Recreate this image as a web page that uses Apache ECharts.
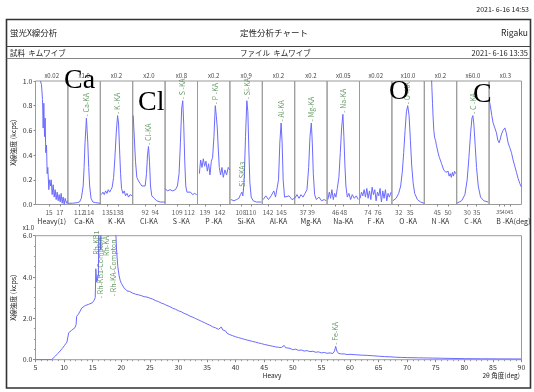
<!DOCTYPE html>
<html>
<head>
<meta charset="utf-8">
<script src="https://cdn.jsdelivr.net/npm/echarts@6/dist/echarts.min.js"></script>
<style>
html,body{margin:0;padding:0;background:#fff;}
#c{width:534px;height:392px;}
</style>
</head>
<body>
<div id="c"></div>
<script>
// ---- qualitative scan: narrow windows around each analysis line ----
const panelNames = ['Heavy(1)','Ca-KA','K -KA','Cl-KA','S -KA','P -KA','Si-KA','Al-KA','Mg-KA','Na-KA','F -KA','O -KA','N -KA','C -KA','B -KA'];
const panelScales = ['x0.02','x1.0','x0.2','x2.0','x0.8','x0.2','x0.9','x0.2','x0.2','x0.05','x0.02','x10.0','x0.2','x60.0','x0.3'];
const panelRanges = [[12.5,18.5],[109.5,116.5],[133,142],[89.5,96],[106,114],[137.5,144],[105.8,112.3],[140.7,148],[35,42.8],[43.9,52],[72.3,78.8],[30.2,38.8],[39,54],[24.5,41.5],[26,55]];
const panelTicks = [[15,17],[112,114],[135,138],[92,94],[109,112],[139,142],[108,110],[142,145],[37,39],[46,48],[74,76],[32,35],[45,50],[30,35],[35,40,45]];

const heavyScan = [[13.42,1.0],[13.61,0.97],[13.8,0.85],[13.92,0.62],[14.04,0.82],[14.17,0.55],[14.29,0.7],[14.4,0.42],[14.54,0.48],[14.66,0.25],[14.78,0.3],[14.97,0.12],[15.09,0.2],[15.28,0.15],[15.4,0.2],[15.59,0.08],[15.77,0.16],[15.96,0.06],[16.14,0.12],[16.33,0.04],[16.51,0.1],[16.7,0.03],[16.88,0.08],[17.07,0.02],[17.25,0.09],[17.44,0.01],[17.62,0.06],[17.81,0.0],[17.99,0.05],[18.24,0.01],[18.42,0.03]];
const caScan = [[109.5,0.01],[110.5,0.01],[111.5,0.015],[112.0,0.02],[112.4,0.05],[112.8,0.15],[113.0,0.3],[113.2,0.5],[113.5,0.70],[113.8,0.5],[114.0,0.3],[114.2,0.15],[114.5,0.05],[114.9,0.02],[115.5,0.015],[116.5,0.01]];
const kScan = [[133.28,0.08],[133.74,0.10],[134.1,0.08],[134.47,0.11],[134.85,0.09],[135.2,0.12],[135.6,0.10],[135.96,0.12],[136.3,0.14],[136.7,0.22],[137.06,0.38],[137.43,0.58],[137.8,0.72],[138.07,0.66],[138.35,0.45],[138.63,0.25],[138.9,0.13],[139.28,0.09],[139.65,0.11],[140.0,0.07],[140.4,0.09],[140.85,0.06],[141.3,0.08],[141.86,0.07]];
const clScan = [[89.6,0.72],[90.06,0.35],[90.33,0.22],[90.67,0.19],[91.0,0.17],[91.33,0.15],[91.67,0.14],[92.0,0.15],[92.27,0.25],[92.47,0.40],[92.67,0.47],[92.87,0.35],[93.07,0.15],[93.33,0.07],[93.8,0.05],[94.33,0.03],[95.0,0.02],[96.0,0.02]];
const sScan = [[106.0,0.13],[106.57,0.11],[107.23,0.12],[107.9,0.11],[108.55,0.12],[109.04,0.15],[109.45,0.25],[109.78,0.5],[110.1,0.78],[110.36,0.84],[110.6,0.65],[110.85,0.35],[111.1,0.15],[111.4,0.1],[111.8,0.09],[112.3,0.1],[112.8,0.08],[113.3,0.09],[113.8,0.08]];
const pScan = [[137.87,0.25],[138.13,0.36],[138.4,0.30],[138.67,0.37],[138.93,0.31],[139.2,0.35],[139.47,0.27],[139.73,0.33],[140.0,0.24],[140.27,0.35],[140.53,0.38],[140.8,0.55],[141.07,0.80],[141.27,0.72],[141.47,0.62],[141.67,0.45],[141.87,0.30],[142.13,0.24],[142.4,0.30],[142.67,0.22],[143.0,0.28],[143.33,0.24],[143.67,0.30],[144.0,0.28]];
const siScan = [[106.0,0.04],[106.6,0.03],[107.13,0.04],[107.6,0.05],[107.93,0.08],[108.2,0.10],[108.4,0.07],[108.67,0.2],[108.93,0.55],[109.2,0.84],[109.4,0.75],[109.6,0.45],[109.8,0.18],[110.07,0.06],[110.47,0.03],[111.13,0.02],[112.13,0.02]];
const alScan = [[140.89,0.04],[141.49,0.07],[142.1,0.04],[142.69,0.07],[143.3,0.11],[143.68,0.06],[144.04,0.05],[144.36,0.2],[144.65,0.5],[144.94,0.66],[145.17,0.5],[145.4,0.2],[145.71,0.06],[146.16,0.05],[146.75,0.07],[147.36,0.04],[147.97,0.05]];
const mgScan = [[35.0,0.05],[35.56,0.08],[36.04,0.05],[36.52,0.08],[37.0,0.06],[37.48,0.09],[37.96,0.12],[38.36,0.3],[38.68,0.55],[39.0,0.66],[39.24,0.5],[39.48,0.25],[39.8,0.08],[40.2,0.04],[40.82,0.06],[41.46,0.03],[42.1,0.04],[42.6,0.03]];
const naScan = [[44.1,0.04],[44.45,0.10],[44.78,0.05],[45.1,0.12],[45.45,0.04],[45.78,0.09],[46.1,0.06],[46.45,0.13],[46.85,0.22],[47.2,0.42],[47.53,0.62],[47.85,0.73],[48.1,0.55],[48.35,0.32],[48.6,0.15],[48.95,0.06],[49.35,0.09],[49.78,0.04],[50.2,0.08],[50.7,0.05],[51.2,0.07],[51.7,0.04]];
const fScan = [[72.43,0.05],[72.7,0.10],[72.97,0.07],[73.23,0.12],[73.5,0.06],[73.77,0.13],[74.03,0.05],[74.3,0.11],[74.57,0.04],[74.83,0.14],[75.1,0.08],[75.37,0.12],[75.63,0.03],[75.9,0.10],[76.17,0.07],[76.43,0.13],[76.7,0.02],[76.97,0.11],[77.23,0.05],[77.5,0.12],[77.77,0.03],[78.03,0.09],[78.3,0.06],[78.63,0.10]];
const oScan = [[30.42,0.03],[31.31,0.05],[32.0,0.09],[32.53,0.15],[32.98,0.27],[33.33,0.42],[33.7,0.60],[34.05,0.75],[34.4,0.80],[34.76,0.72],[35.11,0.52],[35.45,0.32],[35.82,0.18],[36.25,0.09],[36.96,0.04],[37.84,0.02],[38.74,0.01]];
const nScan = [[42.2,1.1],[42.5,0.95],[42.8,0.82],[43.1,0.70],[43.4,0.60],[43.8,0.54],[44.2,0.52],[44.6,0.48],[45.0,0.45],[45.5,0.41],[46.0,0.38],[46.5,0.37],[47.0,0.33],[47.5,0.32],[48.0,0.28],[48.5,0.29],[49.0,0.26],[49.5,0.25],[50.0,0.27],[50.5,0.23],[51.0,0.25],[51.5,0.22],[52.0,0.26],[52.5,0.23],[53.0,0.27],[53.5,0.25]];
const cScan = [[24.5,0.01],[27.1,0.03],[28.8,0.08],[30.0,0.2],[30.9,0.38],[31.8,0.58],[32.5,0.70],[33.0,0.72],[33.5,0.65],[34.2,0.48],[34.9,0.3],[35.8,0.15],[37.0,0.06],[38.7,0.03],[41.0,0.02]];
const bScan = [[26.0,0.85],[27.1,0.80],[28.4,0.72],[29.6,0.66],[31.1,0.62],[32.6,0.58],[33.8,0.52],[35.0,0.50],[36.0,0.53],[37.1,0.57],[38.5,0.60],[40.1,0.62],[41.4,0.58],[43.0,0.50],[44.5,0.46],[46.0,0.42],[47.5,0.36],[49.0,0.31],[50.5,0.26],[52.0,0.21],[53.5,0.17],[55.0,0.14]];
const panelScans = [heavyScan,caScan,kScan,clScan,sScan,pScan,siScan,alScan,mgScan,naScan,fScan,oScan,nScan,cScan,bScan];

// identified lines: [panel, label, 2θ, intensity]
const peakLabels = [
  [1,'- Ca-KA',113.5,0.70],[2,'- K -KA',137.8,0.72],[3,'- Cl-KA',92.67,0.47],
  [4,'- S -KA',110.36,0.84],[5,'- P -KA',141.07,0.80],[6,'- Si-KA',109.2,0.84],
  [6,'- Si-SKA3',108.2,0.10],[7,'- Al-KA',144.94,0.66],[8,'- Mg-KA',39.0,0.66],
  [9,'- Na-KA',47.85,0.73],[11,'- O -KA',34.4,0.80],[13,'- C -KA',33.0,0.72]
];

// ---- heavy-element wide scan (2θ 5–90 deg) ----
const heavyWideScan = [[5,0],[6,0],[7,0],[7.8,0],[8.1,0.06],[8.5,0.18],[8.9,0.3],[9.3,0.42],[9.7,0.55],[10.1,0.7],[10.5,0.85],[10.7,0.9],[10.8,1.3],[11.0,1.38],[11.3,1.42],[11.6,1.4],[11.9,1.55],[12.1,1.7],[12.2,2.1],[12.5,2.2],[12.8,2.35],[13.1,2.5],[13.4,2.55],[13.7,2.62],[14.0,2.58],[14.3,2.68],[14.6,2.64],[14.9,2.75],[15.2,2.85],[15.45,3.0],[15.55,4.4],[15.7,3.75],[15.85,3.9],[16.0,4.1],[16.1,7.5],[16.3,7.5],[16.42,5.3],[16.55,7.5],[18.7,7.5],[19.0,6.4],[19.2,5.2],[19.4,4.5],[19.6,4.1],[19.8,3.85],
  [20.0,3.70],[20.25,3.64],[20.5,3.47],[20.75,3.46],[21.0,3.33],[21.25,3.38],[21.5,3.30],[21.75,3.34],[22.0,3.22],[22.25,3.26],[22.5,3.17],[22.75,3.23],[23.0,3.14],[23.25,3.19],[23.5,3.10],[23.75,3.16],[24.0,3.05],[24.25,3.12],[24.5,3.03],[24.75,3.08],[25.0,2.98],[25.25,3.04],[25.5,2.93],[25.75,2.98],[26.0,2.86],[26.25,2.92],[26.5,2.81],[26.75,2.86],[27.0,2.74],[27.25,2.80],[27.5,2.69],[27.75,2.74],[28.0,2.62],[28.25,2.68],[28.5,2.57],[28.75,2.62],[29.0,2.49],[29.25,2.55],[29.5,2.44],[29.75,2.49],[30.0,2.37],[30.25,2.43],[30.5,2.32],[30.75,2.37],[31.0,2.24],[31.25,2.30],[31.5,2.19],[31.75,2.24],[32.0,2.11],[32.25,2.17],[32.5,2.06],[32.75,2.11],[33.0,1.99],[33.25,2.05],[33.5,1.93],[33.75,1.98],[34.0,1.86],[34.25,1.92],[34.5,1.80],[34.75,1.85],[35.0,1.73],[35.25,1.79],[35.5,1.67],[35.75,1.72],[36.0,1.59],[36.25,1.65],[36.5,1.54],[36.75,1.59],[37.0,1.47],[37.25,1.54],[37.5,1.58],[37.75,1.44],[38.0,1.35],[38.25,1.39],[38.5,1.28],[38.75,1.32],[39.0,1.21],[39.25,1.25],[39.5,1.16],[39.75,1.19],[40.0,1.11],[40.25,1.15],[40.5,1.07],[40.75,1.11],[41.0,1.03],[41.25,1.07],[41.5,0.99],[41.75,1.03],[42.0,0.95],[42.25,0.99],[42.5,0.92],[42.75,0.96],[43.0,0.88],[43.25,0.92],[43.5,0.85],[43.75,0.89],[44.0,0.81],[44.25,0.85],[44.5,0.78],[44.75,0.82],[45.0,0.74],[45.25,0.78],[45.5,0.71],[45.75,0.75],[46.0,0.68],[46.25,0.72],[46.5,0.65],[46.75,0.69],[47.0,0.62],[47.25,0.66],[47.5,0.60],[47.75,0.64],[48.0,0.59],[48.25,0.64],[48.5,0.69],[48.75,0.58],[49.0,0.54],[49.5,0.55],[50.0,0.48],[50.5,0.51],[51.0,0.45],[51.5,0.47],[52.0,0.42],[52.5,0.44],[53.0,0.39],[53.5,0.41],[54.0,0.36],[54.5,0.38],[55.0,0.33],[55.5,0.35],[56.0,0.31],[56.5,0.33],[57.0,0.30],[57.3,0.42],[57.5,0.65],[57.7,0.42],[58.0,0.30],[58.5,0.28],[59.0,0.28],[59.5,0.25],[60,0.26],[61,0.24],[62,0.22],[63,0.21],[64,0.19],[65,0.17],[66,0.15],[67,0.14],[68,0.12],[69,0.11],[70,0.10],[72,0.09],[74,0.08],[76,0.07],[78,0.06],[80,0.05],[83,0.045],[86,0.04],[90,0.035]];
const wideLabels = [['Rh-KB1',15.6,5.0],['- Rh-KB1-Compton',16.4,2.9],['Rh-KA',17.4,4.95],['- Rh-KA-Compton',18.7,3.0],['- Fe-KA',57.5,0.65]];

// ---- page layout ----
const FONT = '"Noto Sans CJK JP","Noto Sans",sans-serif';
const TRACE = '#6b6bff';
const LABEL_GREEN = '#3d7f3d';
const PLOT_L = 35.5, PLOT_R = 521.5;
const TOP_T = 81, TOP_H = 123.5;
const BOT_T = 235.7, BOT_H = 124;
const PW = (PLOT_R - PLOT_L) / panelNames.length;

const grids = [], xAxes = [], yAxes = [], series = [], graphics = [];

panelNames.forEach((nm, i) => {
  grids.push({left: PLOT_L + i * PW, top: TOP_T, width: PW, height: TOP_H, show: true,
    borderColor: '#9a9a9a', borderWidth: 1, outerBoundsMode: 'none', containLabel: false});
  xAxes.push({gridIndex: i, type: 'value', min: panelRanges[i][0], max: panelRanges[i][1],
    axisLine: {show: false}, splitLine: {show: false},
    axisTick: {show: true, customValues: panelTicks[i], length: 2, lineStyle: {color: '#888'}},
    axisLabel: {show: false}});
  yAxes.push({gridIndex: i, type: 'value', min: 0, max: 1, interval: 0.2,
    axisLine: {show: false}, splitLine: {show: false},
    axisTick: {show: i === 0, length: 2, lineStyle: {color: '#888'}},
    axisLabel: {show: i === 0, fontSize: 7, margin: 3, color: '#333', fontFamily: FONT,
      formatter: v => v.toFixed(1)}});
  series.push({type: 'line', xAxisIndex: i, yAxisIndex: i, data: panelScans[i], showSymbol: false,
    clip: true, animation: false, lineStyle: {color: TRACE, width: 1}});
  // 2θ tick values printed under each window (kept even when they touch)
  const dense = panelTicks[i].length > 2;
  series.push({type: 'scatter', xAxisIndex: i, yAxisIndex: i, symbolSize: 1, silent: true,
    itemStyle: {color: 'rgba(0,0,0,0)'}, animation: false,
    data: panelTicks[i].map(t => [t, 0]),
    label: {show: true, position: 'bottom', distance: 4, formatter: p => String(p.value[0]),
      fontSize: dense ? 5.4 : 6.5, color: '#333', fontFamily: FONT}});
  const cx = PLOT_L + (i + 0.5) * PW;
  graphics.push({type: 'text', x: cx, y: 76, silent: true,
    style: {text: panelScales[i], fill: '#444', font: '6px ' + FONT, align: 'center', verticalAlign: 'middle'}});
  if (i < panelNames.length - 1) {
    graphics.push({type: 'text', x: cx, y: 221, silent: true,
      style: {text: nm, fill: '#333', font: '7px ' + FONT, align: 'center', verticalAlign: 'middle'}});
  } else {
    graphics.push({type: 'text', x: cx - 9, y: 221, silent: true,
      style: {text: nm + '(deg)', fill: '#333', font: '7px ' + FONT, align: 'left', verticalAlign: 'middle'}});
  }
});

// peak identification labels per panel
const labelStyle = {show: true, formatter: p => p.name, position: 'top', distance: 1, rotate: 90,
  align: 'left', verticalAlign: 'middle', fontSize: 7, color: LABEL_GREEN, fontFamily: FONT};
panelNames.forEach((nm, i) => {
  const pts = peakLabels.filter(d => d[0] === i).map(d => ({name: d[1], value: [d[2], d[3]]}));
  if (pts.length) {
    series.push({type: 'scatter', xAxisIndex: i, yAxisIndex: i, data: pts, symbolSize: 1,
      itemStyle: {color: 'rgba(0,0,0,0)'}, label: labelStyle, animation: false, z: 5});
  }
});

// wide scan panel
const B = panelNames.length;
grids.push({left: PLOT_L, top: BOT_T, width: PLOT_R - PLOT_L, height: BOT_H, show: true,
  borderColor: '#9a9a9a', borderWidth: 1, outerBoundsMode: 'none', containLabel: false});
xAxes.push({gridIndex: B, type: 'value', min: 5, max: 90, interval: 5,
  axisLine: {show: false}, splitLine: {show: false},
  axisTick: {length: 2.5, lineStyle: {color: '#888'}},
  minorTick: {show: true, splitNumber: 5, length: 1.5, lineStyle: {color: '#999'}},
  axisLabel: {fontSize: 7, margin: 4, color: '#333', fontFamily: FONT}});
yAxes.push({gridIndex: B, type: 'value', min: 0, max: 6, interval: 2,
  axisLine: {show: false}, splitLine: {show: false},
  axisTick: {length: 2.5, lineStyle: {color: '#888'}},
  minorTick: {show: true, splitNumber: 4, length: 1.5, lineStyle: {color: '#999'}},
  axisLabel: {fontSize: 7, margin: 3, color: '#333', fontFamily: FONT, formatter: v => v.toFixed(1)}});
series.push({type: 'line', xAxisIndex: B, yAxisIndex: B, data: heavyWideScan, showSymbol: false,
  clip: true, animation: false, lineStyle: {color: TRACE, width: 1}});
series.push({type: 'scatter', xAxisIndex: B, yAxisIndex: B, symbolSize: 1, itemStyle: {color: 'rgba(0,0,0,0)'},
  data: wideLabels.map(d => ({name: d[0], value: [d[1], d[2]]})), label: labelStyle, animation: false, z: 5});

// report frame, header and captions
const txt = (x, y, s, size, align, extra) => Object.assign({type: 'text', x, y, silent: true,
  style: {text: s, fill: '#222', font: size + 'px ' + FONT, align: align, verticalAlign: 'middle'}}, extra || {});
graphics.push(
  txt(529, 9, '2021- 6-16 14:53', 7, 'right'),
  {type: 'rect', silent: true, shape: {x: 6.5, y: 19.5, width: 524, height: 368.5},
    style: {fill: 'none', stroke: '#333', lineWidth: 1.6}},
  {type: 'line', silent: true, shape: {x1: 6.5, y1: 46.5, x2: 530.5, y2: 46.5}, style: {stroke: '#444', lineWidth: 1.2}},
  {type: 'line', silent: true, shape: {x1: 6.5, y1: 58.5, x2: 530.5, y2: 58.5}, style: {stroke: '#666', lineWidth: 0.8}},
  txt(10, 33, '蛍光X線分析', 8.5, 'left'),
  txt(240, 33, '定性分析チャート', 8.5, 'left'),
  txt(528, 33, 'Rigaku', 8.5, 'right'),
  txt(10, 53, '試料  キムワイブ', 7.5, 'left'),
  txt(240, 53, 'ファイル  キムワイブ', 7.5, 'left'),
  txt(528, 53, '2021- 6-16 13:35', 7.5, 'right'),
  txt(13, TOP_T + TOP_H / 2, 'X線強度 (kcps)', 7, 'center', {rotation: Math.PI / 2}),
  txt(13, BOT_T + BOT_H / 2, 'X線強度 (kcps)', 7, 'center', {rotation: Math.PI / 2}),
  txt(34, 228, 'x1.0', 6, 'right'),
  txt(272, 376, 'Heavy', 6.5, 'center'),
  txt(520, 376, '2θ 角度(deg)', 6.5, 'right')
);
// element call-outs
const big = (x, y, s) => ({type: 'text', x, y, silent: true, z: 100,
  style: {text: s, fill: '#000', font: '28px "Liberation Serif","DejaVu Serif",serif', align: 'left', verticalAlign: 'middle'}});
graphics.push(big(64, 81, 'Ca'), big(138, 103, 'Cl'), big(389, 92, 'O'), big(473, 95, 'C'));

const chart = echarts.init(document.getElementById('c'), null, {renderer: 'canvas'});
chart.setOption({
  animation: false,
  backgroundColor: '#fff',
  grid: grids, xAxis: xAxes, yAxis: yAxes, series: series,
  graphic: {elements: graphics}
});
</script>
</body>
</html>
